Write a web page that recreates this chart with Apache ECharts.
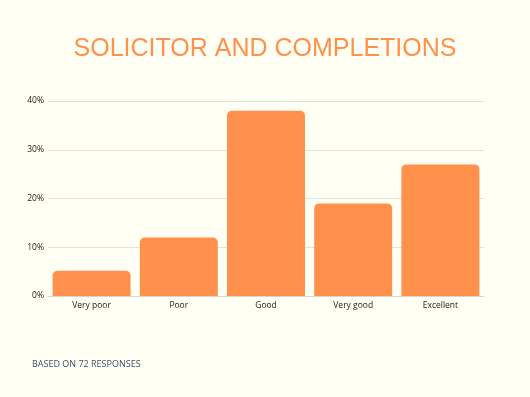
<!DOCTYPE html>
<html>
<head>
<meta charset="utf-8">
<script src="https://cdn.jsdelivr.net/npm/echarts@6/dist/echarts.min.js"></script>
<style>
  html, body { margin: 0; padding: 0; background: #fffff3; }
  #chart { width: 530px; height: 397px; }
</style>
</head>
<body>
<div id="chart"></div>
<script>
var categories = ['Very poor', 'Poor', 'Good', 'Very good', 'Excellent'];
var percents = [5.2, 12, 38, 19, 27];
var yTicks = [0, 10, 20, 30, 40];

var myChart = echarts.init(document.getElementById('chart'));

var option = {
    backgroundColor: '#fffff3',
    title: [{
        text: 'SOLICITOR AND COMPLETIONS',
        left: 'center',
        top: 32,
        textStyle: { fontFamily: 'Liberation Sans', fontSize: 25, fontWeight: 'normal', color: '#ff914d' }
    }, {
        text: 'BASED ON 72 RESPONSES',
        left: 32,
        top: 360,
        padding: 0,
        textStyle: { fontFamily: 'Open Sans', fontSize: 9, fontWeight: 'normal', color: '#3d4f70' }
    }],
    grid: { left: 48, right: 46, top: 101, bottom: 101 },
    xAxis: {
        type: 'category',
        data: categories,
        axisTick: { show: false },
        axisLine: { lineStyle: { color: '#d6d6d0' } },
        axisLabel: { fontFamily: 'Open Sans', fontSize: 8.5, color: '#222', margin: 5 }
    },
    yAxis: {
        type: 'value',
        min: yTicks[0],
        max: yTicks[yTicks.length - 1],
        interval: 10,
        axisLabel: { fontFamily: 'Open Sans', fontSize: 8.5, color: '#222', margin: 4, formatter: '{value}%' },
        splitLine: { lineStyle: { color: '#e2e2dc' } }
    },
    series: [{
        type: 'bar',
        data: percents,
        barWidth: 78,
        itemStyle: { color: '#ff914d', borderRadius: [5, 5, 0, 0] }
    }]
};

myChart.setOption(option);
</script>
</body>
</html>
